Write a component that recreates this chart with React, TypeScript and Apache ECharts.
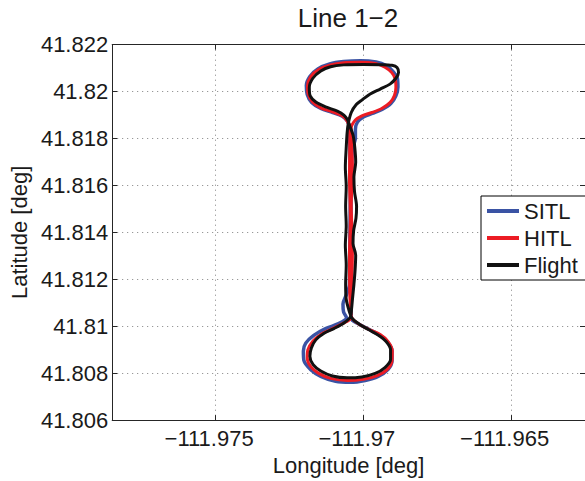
import React, { useEffect, useRef } from "react";
import * as echarts from "echarts";

const titleText = "Line 1\u22122";
const xName = "Longitude [deg]";
const yName = "Latitude [deg]";
const seriesNames = ["SITL", "HITL", "Flight"];
const seriesColors = ["#3a53a4", "#ec1c24", "#111111"];
const xMin = -111.9785;
const xMax = -111.9625;
const xTicks = [-111.975, -111.97, -111.965];
const yMin = 41.806;
const yMax = 41.822;
const yStep = 0.002;

const sitl: [number, number][] = [
  [-111.97037, 41.81761], [-111.97027, 41.81803], [-111.97027, 41.8184], [-111.9702, 41.8187],
  [-111.97, 41.81892], [-111.9697, 41.81907], [-111.96937, 41.81924], [-111.96907, 41.81949],
  [-111.9689, 41.81982], [-111.96883, 41.8202], [-111.96885, 41.82057], [-111.969, 41.82086],
  [-111.96923, 41.82111], [-111.96957, 41.82126], [-111.9701, 41.82132], [-111.97067, 41.82128],
  [-111.97114, 41.82118], [-111.97154, 41.82097], [-111.97181, 41.82065], [-111.97193, 41.82026],
  [-111.9719, 41.81988], [-111.97175, 41.81953], [-111.97144, 41.81928], [-111.97104, 41.81911],
  [-111.97071, 41.81895], [-111.97054, 41.81874], [-111.97047, 41.81845], [-111.97046, 41.81782],
  [-111.97044, 41.81595], [-111.97046, 41.81345], [-111.97047, 41.81178], [-111.97057, 41.81136],
  [-111.97069, 41.81095], [-111.97067, 41.81061], [-111.97057, 41.81036], [-111.97084, 41.81011],
  [-111.97128, 41.8099], [-111.97168, 41.80961], [-111.97195, 41.80928], [-111.97203, 41.80895],
  [-111.97201, 41.80853], [-111.97178, 41.80815], [-111.97144, 41.80786], [-111.97094, 41.80765],
  [-111.97044, 41.80761], [-111.96994, 41.80769], [-111.9695, 41.80786], [-111.96917, 41.80815],
  [-111.96903, 41.80853], [-111.96903, 41.80895], [-111.96917, 41.80932], [-111.96943, 41.80961],
  [-111.9698, 41.80986], [-111.97017, 41.81011], [-111.97041, 41.81032], [-111.97042, 41.81136],
  [-111.97041, 41.81345], [-111.97042, 41.81595], [-111.97037, 41.81761],
];

const hitl: [number, number][] = [
  [-111.97039, 41.81761], [-111.97041, 41.81845], [-111.97027, 41.81879], [-111.97005, 41.81897],
  [-111.96971, 41.81911], [-111.96938, 41.81928], [-111.9691, 41.81953], [-111.96895, 41.81983],
  [-111.9689, 41.82018], [-111.96892, 41.82053], [-111.96904, 41.82081], [-111.96927, 41.82104],
  [-111.9696, 41.8212], [-111.9701, 41.82125], [-111.97066, 41.82123], [-111.97111, 41.82114],
  [-111.9715, 41.82095], [-111.97178, 41.82064], [-111.97189, 41.82025], [-111.97187, 41.8199],
  [-111.97172, 41.81956], [-111.97144, 41.81931], [-111.97105, 41.81914], [-111.97072, 41.81897],
  [-111.97055, 41.81875], [-111.97047, 41.81845], [-111.97046, 41.81782], [-111.97047, 41.81636],
  [-111.97044, 41.81461], [-111.97047, 41.81303], [-111.97046, 41.81136], [-111.97042, 41.81061],
  [-111.97041, 41.81036], [-111.97077, 41.81007], [-111.97111, 41.80986], [-111.97144, 41.80965],
  [-111.97171, 41.80936], [-111.97188, 41.80899], [-111.9719, 41.80865], [-111.97178, 41.80828],
  [-111.97151, 41.80799], [-111.97111, 41.80778], [-111.97054, 41.80769], [-111.97, 41.80774],
  [-111.96953, 41.8079], [-111.9692, 41.80815], [-111.96903, 41.80853], [-111.96902, 41.80895],
  [-111.96917, 41.80936], [-111.96943, 41.80965], [-111.9698, 41.80986], [-111.97017, 41.81011],
  [-111.97037, 41.81032], [-111.97044, 41.81061], [-111.97039, 41.81178], [-111.97037, 41.81345],
  [-111.97041, 41.81511], [-111.97037, 41.81678], [-111.97039, 41.81761],
];

const flight: [number, number][] = [
  [-111.97047, 41.81061], [-111.97058, 41.81115], [-111.9706, 41.81178], [-111.97058, 41.81261],
  [-111.97061, 41.81345], [-111.97058, 41.81428], [-111.9706, 41.81511], [-111.97058, 41.81595],
  [-111.97061, 41.81678], [-111.97058, 41.81761], [-111.97055, 41.81824], [-111.97051, 41.81865],
  [-111.97041, 41.81911], [-111.97024, 41.81945], [-111.97004, 41.81965], [-111.96977, 41.8199],
  [-111.96943, 41.82011], [-111.9691, 41.82032], [-111.9689, 41.82057], [-111.96881, 41.82082],
  [-111.96886, 41.82103], [-111.96903, 41.82112], [-111.96943, 41.82115], [-111.97, 41.82116],
  [-111.97067, 41.82114], [-111.97111, 41.82106], [-111.97144, 41.82088], [-111.97171, 41.82057],
  [-111.97183, 41.82017], [-111.9718, 41.81982], [-111.97161, 41.81956], [-111.97128, 41.81935],
  [-111.97088, 41.81917], [-111.97066, 41.819], [-111.97053, 41.81879], [-111.97046, 41.81853],
  [-111.97035, 41.81815], [-111.97029, 41.81761], [-111.97026, 41.81699], [-111.97032, 41.81636],
  [-111.9703, 41.81574], [-111.97023, 41.81511], [-111.97025, 41.81461], [-111.97033, 41.81407],
  [-111.97035, 41.81353], [-111.97026, 41.81303], [-111.97028, 41.8124], [-111.97032, 41.81178],
  [-111.97037, 41.81115], [-111.9704, 41.81074], [-111.97044, 41.8104], [-111.97066, 41.81014],
  [-111.971, 41.8099], [-111.97133, 41.8097], [-111.97161, 41.80942], [-111.97176, 41.80907],
  [-111.97181, 41.80872], [-111.9717, 41.80836], [-111.97144, 41.80809], [-111.97105, 41.80788],
  [-111.97055, 41.8078], [-111.97005, 41.80784], [-111.9696, 41.80799], [-111.96927, 41.80824],
  [-111.96908, 41.80858], [-111.96908, 41.809], [-111.96923, 41.80935], [-111.96949, 41.80962],
  [-111.96983, 41.80986], [-111.97016, 41.81011], [-111.97037, 41.81032], [-111.97047, 41.81061],
];

const seriesData = [sitl, hitl, flight];
const seriesWidths = [3.5, 3, 3];

const FONT = "'Liberation Sans', Arial, Helvetica, sans-serif";
const AXIS_COLOR = "#262626";
const TEXT_COLOR = "#1a1a1a";

export default function App() {
  const ref = useRef<HTMLDivElement>(null);
  useEffect(() => {
    document.body.style.margin = "0";
    const chart = echarts.init(ref.current!, null, { renderer: "svg" });
    const axisLine = { show: true, onZero: false, lineStyle: { color: AXIS_COLOR, width: 1 } };
    const grid = { show: true, lineStyle: { color: "#808080", type: [1, 4], width: 1 } };
    chart.setOption({
      animation: false,
      backgroundColor: "#ffffff",
      textStyle: { fontFamily: FONT },
      graphic: [
        {
          type: "text",
          x: 348,
          y: 18,
          style: {
            text: titleText,
            fontSize: 26,
            fontFamily: FONT,
            fill: TEXT_COLOR,
            textAlign: "center",
            textVerticalAlign: "middle",
          },
        },
      ],
      grid: { left: 109, top: 44.7, width: 477.6, height: 384.3 },
      legend: {
        data: seriesNames.map((name) => ({ name, icon: "rect" })),
        orient: "vertical",
        left: 481,
        top: 196,
        itemWidth: 32,
        itemHeight: 4,
        itemGap: 5,
        padding: [4, 10, 4, 6],
        borderColor: "#000",
        borderWidth: 1,
        borderRadius: 0,
        backgroundColor: "#fff",
        textStyle: { fontSize: 22, color: TEXT_COLOR, fontFamily: FONT },
      },
      xAxis: [
        {
          type: "value",
          min: xMin,
          max: xMax,
          position: "bottom",
          axisLine,
          axisTick: { show: true, inside: true, length: 5, customValues: xTicks, lineStyle: { color: AXIS_COLOR } },
          axisLabel: {
            customValues: xTicks,
            fontSize: 22,
            color: TEXT_COLOR,
            margin: 7,
            padding: [0, 13, 0, 0],
            formatter: (v: number) => "\u2212" + String(+Math.abs(v).toFixed(3)),
          },
          splitLine: grid,
          name: xName,
          nameLocation: "middle",
          nameGap: 28,
          nameTextStyle: { fontSize: 22, color: TEXT_COLOR },
        },
        {
          type: "value",
          min: xMin,
          max: xMax,
          position: "top",
          axisLine,
          axisTick: { show: true, inside: true, length: 5, customValues: xTicks, lineStyle: { color: AXIS_COLOR } },
          axisLabel: { show: false },
          splitLine: { show: false },
        },
      ],
      yAxis: [
        {
          type: "value",
          min: yMin,
          max: yMax,
          interval: yStep,
          position: "left",
          axisLine,
          axisTick: { show: true, inside: true, length: 5, lineStyle: { color: AXIS_COLOR } },
          axisLabel: {
            fontSize: 22,
            color: TEXT_COLOR,
            margin: 4,
            formatter: (v: number) => String(+v.toFixed(3)),
          },
          splitLine: grid,
          name: yName,
          nameLocation: "middle",
          nameGap: 77,
          nameTextStyle: { fontSize: 22, color: TEXT_COLOR },
        },
        {
          type: "value",
          min: yMin,
          max: yMax,
          interval: yStep,
          position: "right",
          axisLine,
          axisTick: { show: true, inside: true, length: 5, lineStyle: { color: AXIS_COLOR } },
          axisLabel: { show: false },
          splitLine: { show: false },
        },
      ],
      series: seriesNames.map((name, i) => ({
        name,
        type: "line",
        data: seriesData[i],
        symbol: "none",
        showSymbol: false,
        smooth: 0.3,
        xAxisIndex: 0,
        yAxisIndex: 0,
        lineStyle: { color: seriesColors[i], width: seriesWidths[i] },
        itemStyle: { color: seriesColors[i] },
        z: 2 + i,
      })),
    });
    return () => chart.dispose();
  }, []);
  return <div ref={ref} style={{ width: 585, height: 481 }} />;
}
